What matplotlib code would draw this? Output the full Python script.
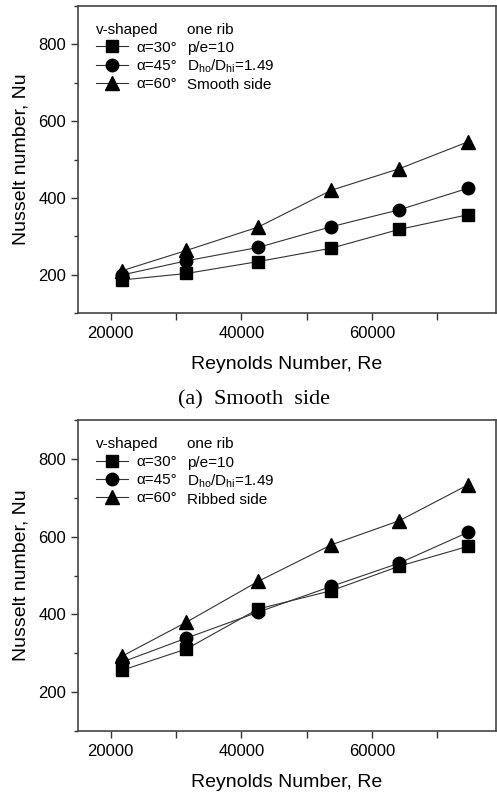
import matplotlib
matplotlib.use("Agg")
import matplotlib.pyplot as plt
from matplotlib.ticker import MultipleLocator, FuncFormatter

plt.rcParams['font.family'] = ['Liberation Sans', 'DejaVu Sans']
plt.rcParams['mathtext.fontset'] = 'custom'
plt.rcParams['mathtext.rm'] = 'Liberation Sans'
plt.rcParams['mathtext.it'] = 'Liberation Sans:italic'

re = [21700, 31600, 42600, 53800, 64200, 74700]

smooth_30 = [186, 203, 234, 269, 318, 356]
smooth_45 = [199, 236, 271, 325, 369, 425]
smooth_60 = [210, 263, 324, 420, 476, 546]

ribbed_30 = [256, 311, 414, 461, 524, 575]
ribbed_45 = [277, 339, 406, 472, 532, 611]
ribbed_60 = [292, 380, 485, 579, 641, 733]

labels = ['\u03b1=30\u00b0', '\u03b1=45\u00b0', '\u03b1=60\u00b0']
markers = ['s', 'o', '^']
msizes = [8, 9, 9.5]
notes_top = ['one rib', 'p/e=10', r'D$_{\rm ho}$/D$_{\rm hi}$=1.49', 'Smooth side']
notes_bot = ['one rib', 'p/e=10', r'D$_{\rm ho}$/D$_{\rm hi}$=1.49', 'Ribbed side']
caption = '(a)  Smooth  side'

fig = plt.figure(figsize=(4.97, 7.96), dpi=100)
W, H = 497, 796
ax1 = fig.add_axes([78 / W, 1 - 313 / H, (496 - 78) / W, (313 - 6) / H])
ax2 = fig.add_axes([78 / W, 1 - 731 / H, (496 - 78) / W, (731 - 420) / H])

def draw(ax, series, notes):
    for ys, lab, m, ms in zip(series, labels, markers, msizes):
        ax.plot(re, ys, color='#333333', lw=0.8, marker=m, ms=ms,
                mfc='black', mec='black', label=lab)
    ax.set_xlim(15000, 79000)
    ax.set_ylim(100, 900)
    ax.xaxis.set_major_locator(MultipleLocator(10000))
    ax.xaxis.set_major_formatter(FuncFormatter(
        lambda v, p: f'{int(v)}' if int(v) % 20000 == 0 else ''))
    ax.yaxis.set_major_locator(MultipleLocator(200))
    ax.yaxis.set_minor_locator(MultipleLocator(100))
    ax.tick_params(axis='both', which='major', direction='out', length=5,
                   width=1.0, labelsize=12, color='#333333')
    ax.tick_params(axis='y', which='minor', direction='out', length=3,
                   width=1.0, color='#333333')
    ax.tick_params(axis='x', pad=4)
    for s in ax.spines.values():
        s.set_color('#444444')
        s.set_linewidth(1.2)
    ax.set_xlabel('Reynolds Number, Re', fontsize=14, labelpad=11)
    ax.set_ylabel('Nusselt number, Nu', fontsize=14, labelpad=6)
    leg = ax.legend(loc='upper left', bbox_to_anchor=(0.02, 0.976),
                    title='v-shaped', frameon=False, fontsize=11,
                    title_fontsize=11, handlelength=2.1, handletextpad=0.55,
                    labelspacing=0.28, borderaxespad=0.2)
    leg._legend_box.align = 'left'
    for i, t in enumerate(notes):
        ax.text(0.26, 0.922 - i * 0.0596, t, transform=ax.transAxes,
                fontsize=11, ha='left', va='center')

draw(ax1, [smooth_30, smooth_45, smooth_60], notes_top)
draw(ax2, [ribbed_30, ribbed_45, ribbed_60], notes_bot)

fig.text(254 / W, 1 - 400 / H, caption, fontsize=16, ha='center', va='center',
         family=['Liberation Serif', 'DejaVu Serif'])

fig.savefig('out.png', dpi=100)
